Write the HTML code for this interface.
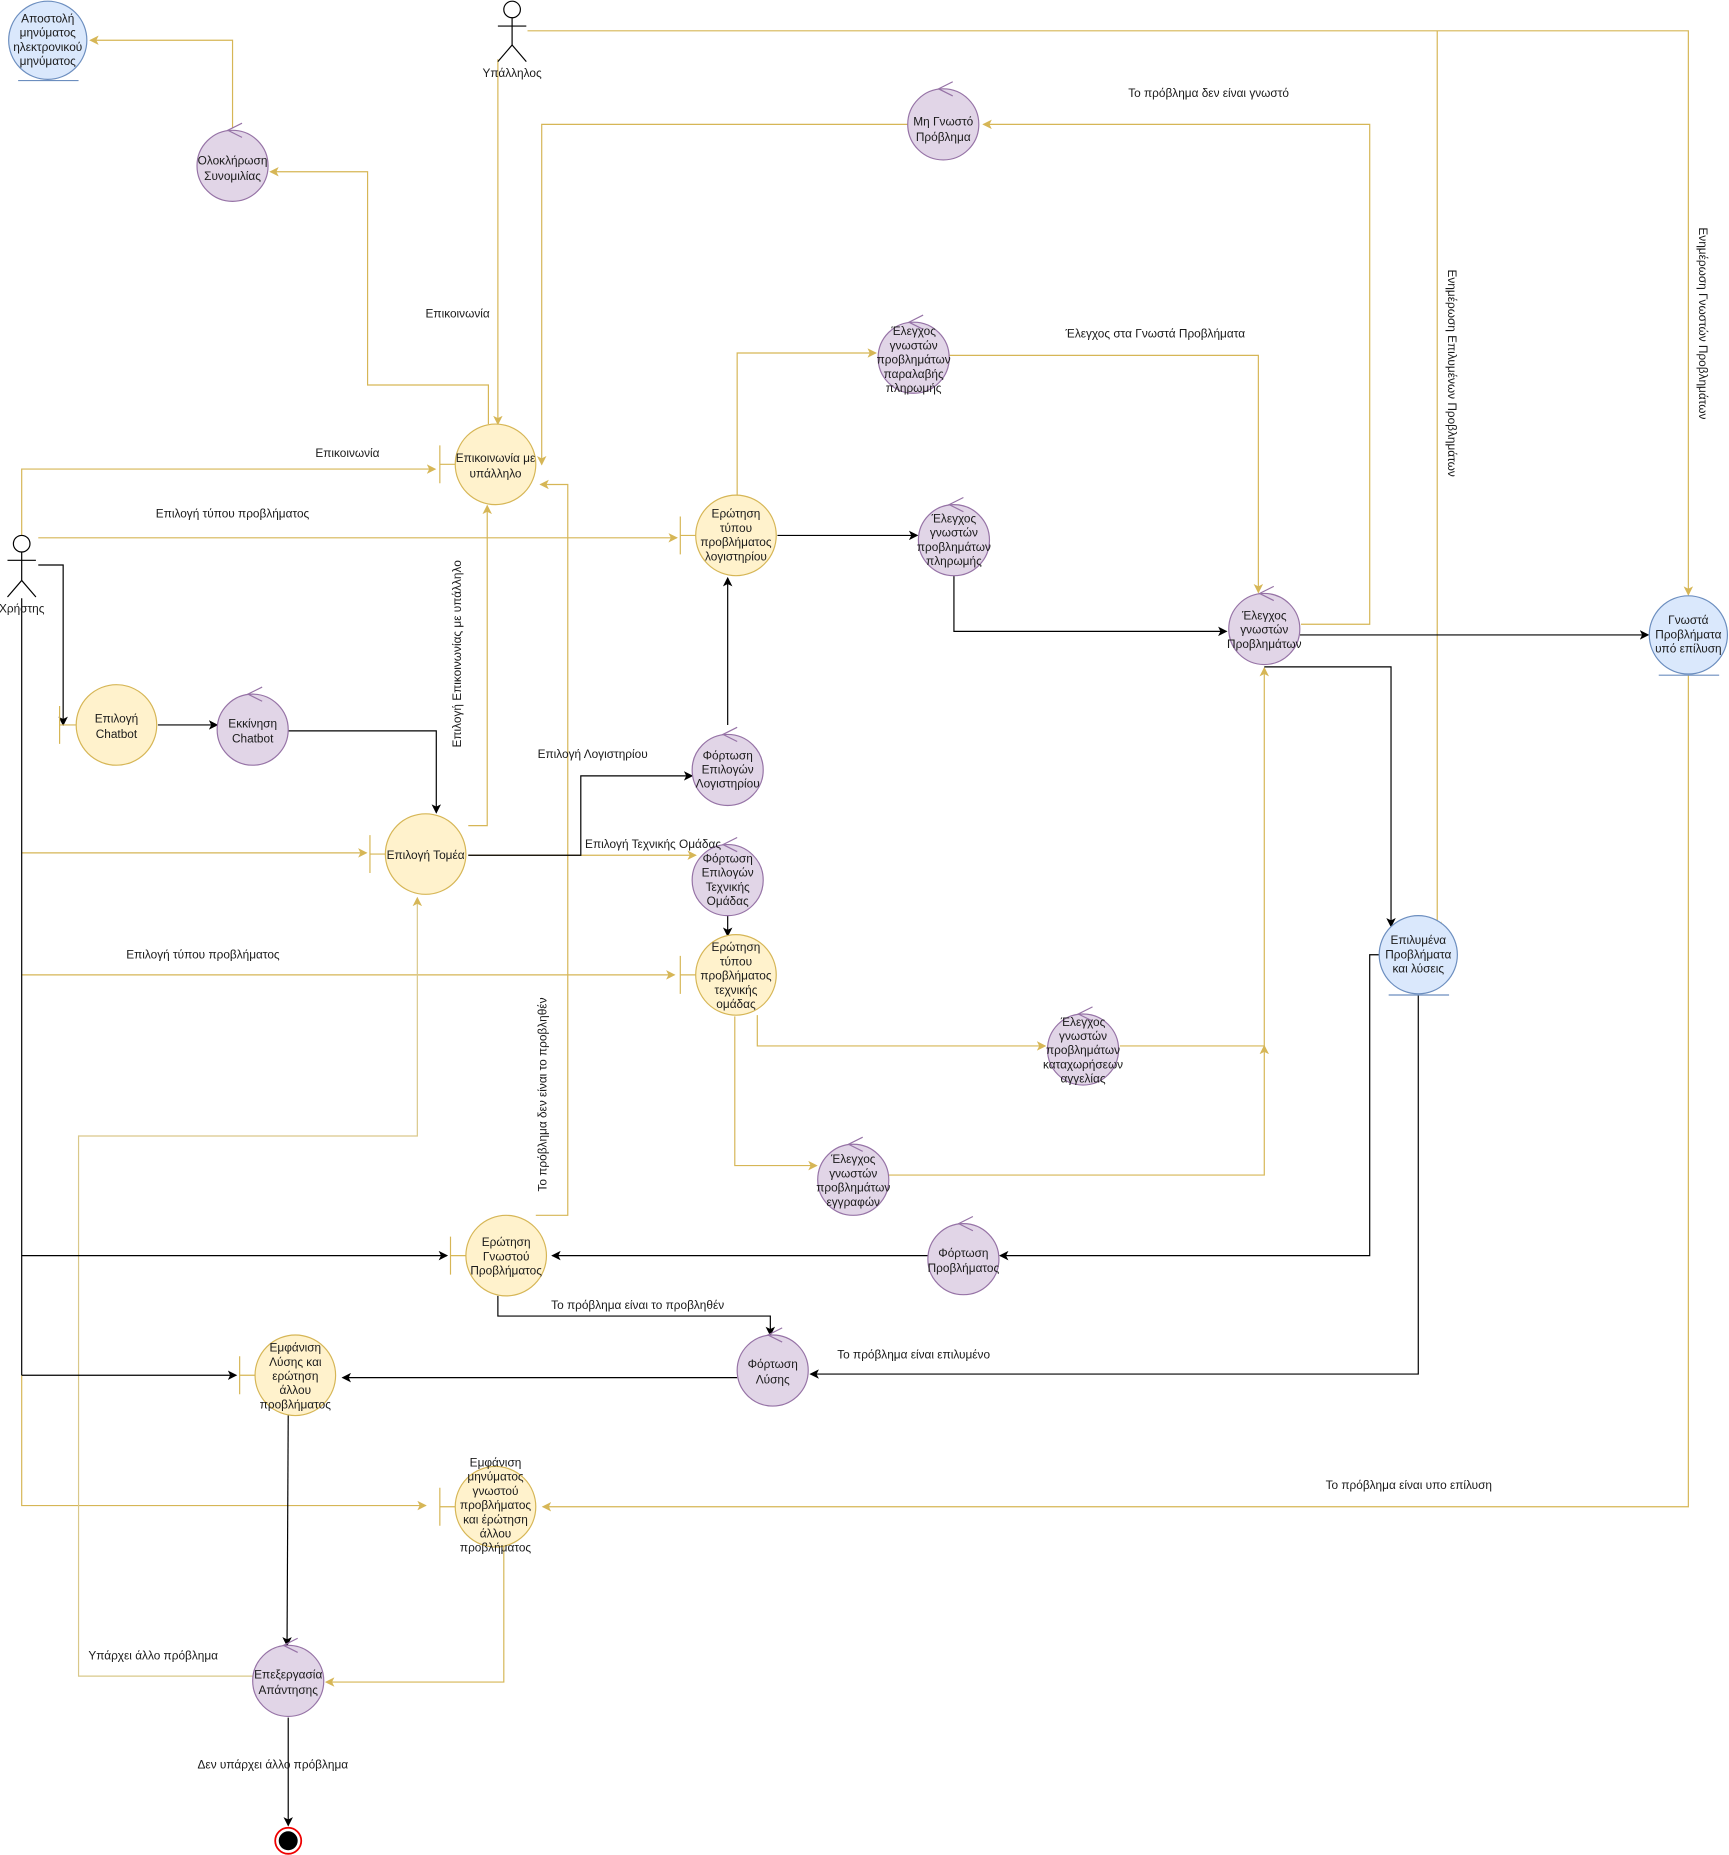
<!DOCTYPE html>
<html><head><meta charset="utf-8"><style>
html,body{margin:0;padding:0;background:#fff;}
svg{display:block;}
text{font-family:"Liberation Sans",Arial,sans-serif;font-size:10px;fill:#1a1a1a;}
.n text{text-anchor:middle;}
</style></head><body>
<svg width="1729" height="1855" viewBox="0 0 1459 1566" xmlns="http://www.w3.org/2000/svg">
<defs>
<marker id="ay" markerWidth="8" markerHeight="8" refX="7" refY="4" orient="auto" markerUnits="userSpaceOnUse"><path d="M0,0 L8,4 L0,8 L2,4z" fill="#d6b656"/></marker>
<marker id="ab" markerWidth="8" markerHeight="8" refX="7" refY="4" orient="auto" markerUnits="userSpaceOnUse"><path d="M0,0 L8,4 L0,8 L2,4z" fill="#000"/></marker>
</defs>
<g fill="none" stroke-width="1">
<g stroke="#d6b656" marker-end="url(#ay)">
<polyline points="196,108 196,34 76,34"/>
<polyline points="412,358 412,325 310,325 310,145 228,145"/>
<polyline points="420,50 420,358"/>
<polyline points="445,26 1425,26 1425,502"/>
<polyline points="1213,26 1213,785"/>
<polyline points="766,105 457,105 457,392"/>
<polyline points="1098,527 1156,527 1156,105 830,105"/>
<polyline points="622,418 622,298 739,298"/>
<polyline points="801,300 1062,300 1062,500"/>
<polyline points="18,452 18,396 367,396"/>
<polyline points="32,454 571,454"/>
<polyline points="395,697 411,697 411,427"/>
<polyline points="395,722 587,722"/>
<polyline points="18,720 309,720"/>
<polyline points="18,823 569,823"/>
<polyline points="18,1161 18,1271 359,1271"/>
<polyline points="639,857 639,883 882,883"/>
<polyline points="945,883 1067,883 1067,564"/>
<polyline points="620,858 620,984 689,984"/>
<polyline points="750,992 1067,992 1067,883"/>
<polyline points="452,1026 479,1026 479,409 456,409"/>
<polyline points="425,1305 425,1420 275,1420"/>
<polyline points="1425,570 1425,1272 458,1272"/>
<polyline points="213,1415 66,1415 66,959 352,959 352,758" stroke="#d9c88a"/>
</g>
<g stroke="#000" marker-end="url(#ab)">
<polyline points="656,452 774,452"/>
<polyline points="805,485 805,533 1035,533"/>
<polyline points="1097,536 1391,536"/>
<polyline points="1067,563 1174,563 1174,782"/>
<polyline points="32,477 53,477 53,612"/>
<polyline points="133,612 183,612"/>
<polyline points="243,617 368,617 368,686"/>
<polyline points="614,612 614,488"/>
<polyline points="395,722 490,722 490,655 584,655"/>
<polyline points="614,772 614,790"/>
<polyline points="18,1060 377,1060"/>
<polyline points="18,1161 199,1161"/>
<polyline points="783,1060 466,1060"/>
<polyline points="1164,806 1156,806 1156,1060 844,1060"/>
<polyline points="1197,840 1197,1160 684,1160"/>
<polyline points="420,1094 420,1111 650,1111 650,1127"/>
<polyline points="622,1163 289,1163"/>
<polyline points="243,1195 242,1389"/>
<polyline points="243,1450 243,1541"/>
</g>
<line x1="18" y1="505" x2="18" y2="1161" stroke="#000"/>
</g>

<g stroke="#000" fill="#fff">
<circle cx="432" cy="8" r="7"/>
<line x1="432" y1="15" x2="432" y2="38"/><line x1="420" y1="22" x2="444" y2="22"/>
<line x1="432" y1="38" x2="420" y2="52"/><line x1="432" y1="38" x2="444" y2="52"/>
<circle cx="18" cy="459" r="7"/>
<line x1="18" y1="466" x2="18" y2="490"/><line x1="6" y1="473" x2="30" y2="473"/>
<line x1="18" y1="490" x2="6" y2="504"/><line x1="18" y1="490" x2="30" y2="504"/>
</g>
<text x="432" y="65" text-anchor="middle">Υπάλληλος</text>
<text x="18" y="517" text-anchor="middle">Χρήστης</text>

<g class="n">
<g stroke="#6c8ebf"><circle cx="40" cy="34" r="33" fill="#dae8fc"/><line x1="15" y1="68" x2="66" y2="68"/></g>
<text x="40" y="19">Αποστολή</text><text x="40" y="31">μηνύματος</text><text x="40" y="43">ηλεκτρονικού</text><text x="40" y="55">μηνύματος</text>
<g stroke="#6c8ebf"><circle cx="1425" cy="536" r="33" fill="#dae8fc"/><line x1="1400" y1="570" x2="1451" y2="570"/></g>
<text x="1425" y="527">Γνωστά</text><text x="1425" y="539">Προβλήματα</text><text x="1425" y="551">υπό επίλυση</text>
<g stroke="#6c8ebf"><circle cx="1197" cy="806" r="33" fill="#dae8fc"/><line x1="1172" y1="840" x2="1223" y2="840"/></g>
<text x="1197" y="797">Επιλυμένα</text><text x="1197" y="809">Προβλήματα</text><text x="1197" y="821">και λύσεις</text>
</g>

<g class="n">
<g stroke="#9673a6" fill="#e1d5e7">
<circle cx="196" cy="140" r="30"/><path d="M204,104 L192,110 L204,116" fill="none"/>
<circle cx="796" cy="105" r="30"/><path d="M804,69 L792,75 L804,81" fill="none"/>
<circle cx="771" cy="302" r="30"/><path d="M779,266 L767,272 L779,278" fill="none"/>
<circle cx="805" cy="456" r="30"/><path d="M813,420 L801,426 L813,432" fill="none"/>
<circle cx="1067" cy="531" r="30"/><path d="M1075,495 L1063,501 L1075,507" fill="none"/>
<circle cx="213" cy="616" r="30"/><path d="M221,580 L209,586 L221,592" fill="none"/>
<circle cx="614" cy="650" r="30"/><path d="M622,614 L610,620 L622,626" fill="none"/>
<circle cx="614" cy="743" r="30"/><path d="M622,707 L610,713 L622,719" fill="none"/>
<circle cx="914" cy="886" r="30"/><path d="M922,850 L910,856 L922,862" fill="none"/>
<circle cx="720" cy="996" r="30"/><path d="M728,960 L716,966 L728,972" fill="none"/>
<circle cx="813" cy="1063" r="30"/><path d="M821,1027 L809,1033 L821,1039" fill="none"/>
<circle cx="652" cy="1157" r="30"/><path d="M660,1121 L648,1127 L660,1133" fill="none"/>
<circle cx="243" cy="1419" r="30"/><path d="M251,1383 L239,1389 L251,1395" fill="none"/>
</g>
<text x="196" y="139">Ολοκλήρωση</text><text x="196" y="152">Συνομιλίας</text>
<text x="796" y="106">Μη Γνωστό</text><text x="796" y="119">Πρόβλημα</text>
<text x="771" y="283">Έλεγχος</text><text x="771" y="295">γνωστών</text><text x="771" y="307">προβλημάτων</text><text x="771" y="319">παραλαβής</text><text x="771" y="331">πληρωμής</text>
<text x="805" y="441">Έλεγχος</text><text x="805" y="453">γνωστών</text><text x="805" y="465">προβλημάτων</text><text x="805" y="477">πληρωμής</text>
<text x="1067" y="523">Έλεγχος</text><text x="1067" y="535">γνωστών</text><text x="1067" y="547">Προβλημάτων</text>
<text x="213" y="614">Εκκίνηση</text><text x="213" y="627">Chatbot</text>
<text x="614" y="641">Φόρτωση</text><text x="614" y="653">Επιλογών</text><text x="614" y="665">Λογιστηρίου</text>
<text x="614" y="728">Φόρτωση</text><text x="614" y="740">Επιλογών</text><text x="614" y="752">Τεχνικής</text><text x="614" y="764">Ομάδας</text>
<text x="914" y="866">Έλεγχος</text><text x="914" y="878">γνωστών</text><text x="914" y="890">προβλημάτων</text><text x="914" y="902">καταχωρήσεων</text><text x="914" y="914">αγγελίας</text>
<text x="720" y="982">Έλεγχος</text><text x="720" y="994">γνωστών</text><text x="720" y="1006">προβλημάτων</text><text x="720" y="1018">εγγραφών</text>
<text x="813" y="1061">Φόρτωση</text><text x="813" y="1074">Προβλήματος</text>
<text x="652" y="1155">Φόρτωση</text><text x="652" y="1168">Λύσης</text>
<text x="243" y="1417">Επεξεργασία</text><text x="243" y="1430">Απάντησης</text>
</g>

<g class="n">
<g stroke="#d6b656" fill="#fff2cc">
<circle cx="418" cy="392" r="34"/><path d="M371,376 V408 M371,392 H384" fill="none"/>
<circle cx="621" cy="452" r="34"/><path d="M574,436 V468 M574,452 H587" fill="none"/>
<circle cx="98" cy="612" r="34"/><path d="M50,596 V628 M50,612 H64" fill="none"/>
<circle cx="359" cy="721" r="34"/><path d="M312,705 V737 M312,721 H325" fill="none"/>
<circle cx="621" cy="823" r="34"/><path d="M574,807 V839 M574,823 H587" fill="none"/>
<circle cx="427" cy="1060" r="34"/><path d="M380,1044 V1076 M380,1060 H393" fill="none"/>
<circle cx="249" cy="1161" r="34"/><path d="M202,1145 V1177 M202,1161 H215" fill="none"/>
<circle cx="418" cy="1272" r="34"/><path d="M371,1256 V1288 M371,1272 H384" fill="none"/>
</g>
<text x="418" y="390">Επικοινωνία με</text><text x="418" y="403">υπάλληλο</text>
<text x="621" y="437">Ερώτηση</text><text x="621" y="449">τύπου</text><text x="621" y="461">προβλήματος</text><text x="621" y="473">λογιστηρίου</text>
<text x="98" y="610">Επιλογή</text><text x="98" y="623">Chatbot</text>
<text x="359" y="725">Επιλογή Τομέα</text>
<text x="621" y="803">Ερώτηση</text><text x="621" y="815">τύπου</text><text x="621" y="827">προβλήματος</text><text x="621" y="839">τεχνικής</text><text x="621" y="851">ομάδας</text>
<text x="427" y="1052">Ερώτηση</text><text x="427" y="1064">Γνωστού</text><text x="427" y="1076">Προβλήματος</text>
<text x="249" y="1141">Εμφάνιση</text><text x="249" y="1153">Λύσης και</text><text x="249" y="1165">ερώτηση</text><text x="249" y="1177">άλλου</text><text x="249" y="1189">προβλήματος</text>
<text x="418" y="1238">Εμφάνιση</text><text x="418" y="1250">μηνύματος</text><text x="418" y="1262">γνωστού</text><text x="418" y="1274">προβλήματος</text><text x="418" y="1286">και έρώτηση</text><text x="418" y="1298">άλλου</text><text x="418" y="1310">προβλήματος</text>
</g>

<circle cx="243" cy="1554" r="11" fill="#fff" stroke="#e00" stroke-width="1.5"/>
<circle cx="243" cy="1554" r="8" fill="#000"/>

<text x="1020" y="82" text-anchor="middle">Το πρόβλημα δεν είναι γνωστό</text>
<text x="975" y="285" text-anchor="middle">Έλεγχος στα Γνωστά Προβλήματα</text>
<text x="386" y="268" text-anchor="middle">Επικοινωνία</text>
<text x="293" y="386" text-anchor="middle">Επικοινωνία</text>
<text x="196" y="437" text-anchor="middle">Επιλογή τύπου προβλήματος</text>
<text x="500" y="640" text-anchor="middle">Επιλογή Λογιστηρίου</text>
<text x="551" y="716" text-anchor="middle">Επιλογή Τεχνικής Ομάδας</text>
<text x="171" y="809" text-anchor="middle">Επιλογή τύπου προβλήματος</text>
<text x="538" y="1105" text-anchor="middle">Το πρόβλημα είναι το προβληθέν</text>
<text x="771" y="1147" text-anchor="middle">Το πρόβλημα είναι επιλυμένο</text>
<text x="1189" y="1257" text-anchor="middle">Το πρόβλημα είναι υπο επίλυση</text>
<text x="129" y="1401" text-anchor="middle">Υπάρχει άλλο πρόβλημα</text>
<text x="230" y="1493" text-anchor="middle">Δεν υπάρχει άλλο πρόβλημα</text>
<text transform="translate(389,552) rotate(-90)" text-anchor="middle">Επιλογή Επικοινωνίας με υπάλληλο</text>
<text transform="translate(461,924) rotate(-90)" text-anchor="middle">Το πρόβλημα δεν είναι το προβληθέν</text>
<text transform="translate(1222,315) rotate(90)" text-anchor="middle">Ενημέρωση Επιλυμένων Προβλημάτων</text>
<text transform="translate(1434,273) rotate(90)" text-anchor="middle">Ενημέρωση Γνωστών Προβλημάτων</text>
</svg>
</body></html>
